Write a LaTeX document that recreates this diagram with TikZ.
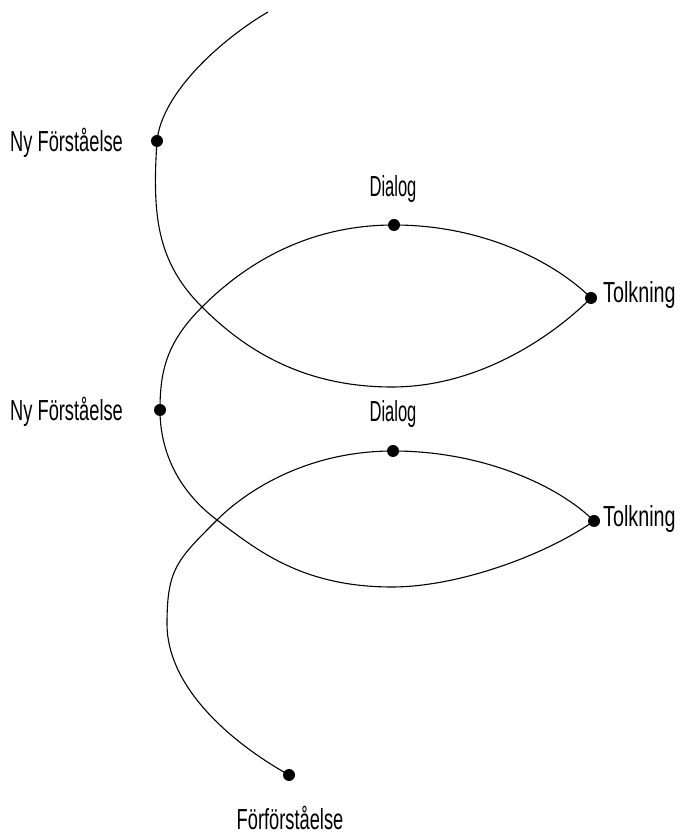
\documentclass[tikz,border=0pt]{standalone}
\usepackage{fontspec}
\newfontfamily\lblfont[FakeStretch=0.63]{Liberation Sans}
\newfontfamily\lblfontT[FakeStretch=0.68]{Liberation Sans}
\newfontfamily\lblfontnarrow[FakeStretch=0.57]{Liberation Sans}
\begin{document}
\begin{tikzpicture}[x=1pt,y=1pt,
  curve/.style={line width=1.1pt, black},
  dot/.style={circle, fill=black, inner sep=0pt, minimum size=12pt},
  lbl/.style={inner sep=0pt, font=\lblfont\fontsize{29}{32}\selectfont},
  lblt/.style={inner sep=0pt, font=\lblfontT\fontsize{29}{32}\selectfont},
  lbln/.style={inner sep=0pt, font=\lblfontnarrow\fontsize{29}{32}\selectfont}]
\useasboundingbox (0,0) rectangle (682,834);
% points
\coordinate (T0) at (268,822);
\coordinate (X1) at (202,527);
\coordinate (B1) at (392,447);
\coordinate (X2) at (217,314);
\coordinate (B2) at (392,247);
\coordinate (L2) at (167,210);
\node[dot] (NF1) at (157,693) {};
\node[dot] (TK1) at (591,536) {};
\node[dot] (D1) at (394,609) {};
\node[dot] (NF2) at (160,424) {};
\node[dot] (TK2) at (594,313) {};
\node[dot] (D2) at (393,383) {};
\node[dot] (FF) at (289,59) {};
% curve
\draw[curve] (T0) .. controls +(-43,-25) and +(5,50) .. (NF1.center)
  .. controls +(-5,-75) and +(-45,45) .. (X1)
  .. controls +(40,-40) and +(-92,0) .. (B1)
  .. controls +(90,0) and +(-35,-35) .. (TK1.center)
  .. controls +(-35,35) and +(90,0) .. (D1.center)
  .. controls +(-90,0) and +(40,40) .. (X1)
  .. controls +(-35,-35) and +(0,40) .. (NF2.center)
  .. controls +(0,-40) and +(-40,30) .. (X2)
  .. controls +(40,-30) and +(-90,0) .. (B2)
  .. controls +(65,0) and +(-50,-35) .. (TK2.center)
  .. controls +(-35,35) and +(90,0) .. (D2.center)
  .. controls +(-85,0) and +(30,30) .. (X2)
  .. controls +(-40,-40) and +(0,55) .. (L2)
  .. controls +(0,-60) and +(-64,36) .. (FF.center);
% labels
\node[lbl, anchor=base west] (lNF1) at (10,682) {Ny Förståelse};
\node[lbl, anchor=base west] (lNF2) at (10,413) {Ny Förståelse};
\node[lbln, anchor=base] (lD1) at (393,637) {Dialog};
\node[lbln, anchor=base] (lD2) at (393,412) {Dialog};
\node[lblt, anchor=base west] (lTK1) at (603,531) {Tolkning};
\node[lblt, anchor=base west] (lTK2) at (603,307) {Tolkning};
\node[lbl, anchor=base] (lFF) at (290,5) {Förförståelse};
\end{tikzpicture}
\end{document}
